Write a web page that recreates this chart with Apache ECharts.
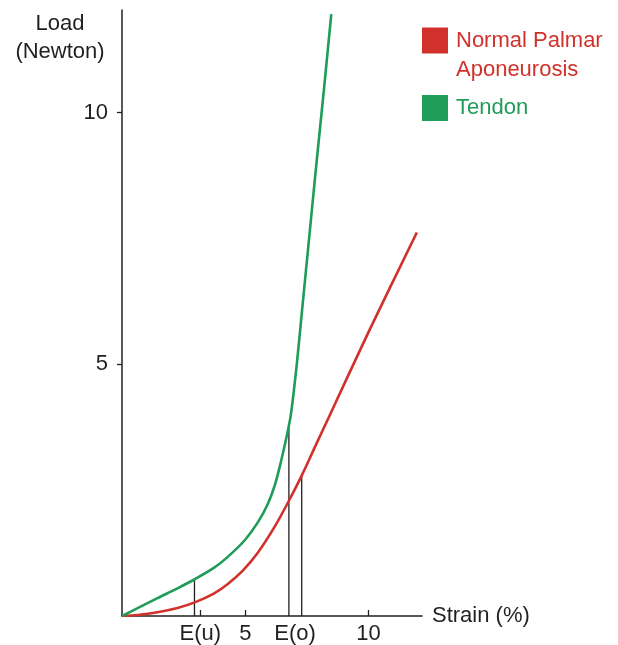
<!DOCTYPE html>
<html><head><meta charset="utf-8">
<script src="https://cdn.jsdelivr.net/npm/echarts@6/dist/echarts.min.js"></script>
<style>html,body{margin:0;padding:0;background:#fff}#c{width:618px;height:645px}</style>
</head><body><div id="c"></div>
<script>
// ---- data ----
const seriesNames = ['Normal Palmar\nAponeurosis', 'Tendon'];
const palmarData = [[0,0],[0.63,0.02],[1.44,0.075],[2.25,0.16],[2.95,0.27],[3.74,0.45],[4.28,0.63],[4.9,0.9],[5.5,1.25],[6.2,1.78],[6.75,2.27],[7.3,2.8],[7.8,3.33],[8.4,3.96],[10.0,5.64],[11.96,7.62]];
const tendonData = [[0,0],[0.63,0.155],[1.44,0.355],[2.25,0.55],[2.95,0.73],[3.74,0.96],[4.28,1.17],[4.97,1.5],[5.51,1.86],[5.91,2.22],[6.2,2.6],[6.45,3.07],[6.65,3.5],[6.85,4.0],[7.09,5.0],[7.3,6.05],[7.6,7.55],[7.9,9.05],[8.2,10.5],[8.49,11.96]];
const eLines = [[2.94,0.72],[6.77,3.78],[7.29,2.78]];
const xTickValues = [3.18, 5, 10];
const xLabelValues = [3.18, 5, 7.02, 10];
const xLabelTexts = ['E(u)', '5', 'E(o)', '10'];
const yTickValues = [5, 10];
const axisNames = { x: 'Strain (%)', y: 'Load\n(Newton)' };

const RED = '#d1312a', GREEN = '#1f9c57', INK = '#231f20';
const FONT = '"Liberation Sans", Arial, Helvetica, sans-serif';

const chart = echarts.init(document.getElementById('c'), null, { renderer: 'canvas' });
const series = [
  { name: seriesNames[0], type: 'line', data: palmarData, smooth: 0.3, symbol: 'none', color: RED,
    lineStyle: { color: RED, width: 2.6 }, itemStyle: { color: RED }, z: 3 },
  { name: seriesNames[1], type: 'line', data: tendonData, smooth: 0.3, symbol: 'none', color: GREEN,
    lineStyle: { color: GREEN, width: 2.6 }, itemStyle: { color: GREEN }, z: 3 }
];
eLines.forEach(function (p) {
  series.push({ type: 'line', data: [[p[0], 0], [p[0], p[1]]], symbol: 'none', silent: true,
    lineStyle: { color: INK, width: 1.3 }, z: 2 });
});

chart.setOption({
  animation: false,
  backgroundColor: '#fff',
  textStyle: { fontFamily: FONT },
  title: { text: axisNames.y, left: 60, top: 10, padding: 0, textAlign: 'center',
    textStyle: { fontSize: 22, fontWeight: 'normal', color: INK, lineHeight: 28, fontFamily: FONT } },
  grid: { left: 122, top: 10, width: 300, height: 606, containLabel: false },
  legend: [
    { left: 422, top: -3, padding: 0, orient: 'vertical', icon: 'rect', itemWidth: 26, itemHeight: 26,
      data: [seriesNames[0]],
      formatter: function (n) { return '\n' + n; },
      textStyle: { color: RED, fontSize: 22, lineHeight: 29, fontFamily: FONT, padding: [0, 0, 0, 3] } },
    { left: 422, top: 94, padding: 0, orient: 'vertical', icon: 'rect', itemWidth: 26, itemHeight: 26,
      data: [seriesNames[1]],
      textStyle: { color: GREEN, fontSize: 22, lineHeight: 28, fontFamily: FONT, padding: [0, 0, 0, 3] } }
  ],
  xAxis: {
    type: 'value', min: 0, max: 12.17,
    name: axisNames.x, nameLocation: 'end', nameGap: 10,
    nameTextStyle: { fontSize: 22, color: INK, fontFamily: FONT },
    axisLine: { show: true, lineStyle: { color: INK, width: 1.5 } },
    axisTick: { show: true, inside: true, length: 6, customValues: xTickValues, lineStyle: { color: INK, width: 1.3 } },
    axisLabel: { show: true, margin: 7, customValues: xLabelValues, fontSize: 22, color: INK, fontFamily: FONT,
      formatter: function (v) { const i = xLabelValues.indexOf(v); return i >= 0 ? xLabelTexts[i] : ''; } },
    splitLine: { show: false }
  },
  yAxis: {
    type: 'value', min: 0, max: 12.04,
    axisLine: { show: true, lineStyle: { color: INK, width: 1.5 } },
    axisTick: { show: true, inside: false, length: 5, customValues: yTickValues, lineStyle: { color: INK, width: 1.3 } },
    axisLabel: { show: true, margin: 14, customValues: yTickValues, fontSize: 22, color: INK, fontFamily: FONT },
    splitLine: { show: false }
  },
  series: series
});
</script>
</body></html>
